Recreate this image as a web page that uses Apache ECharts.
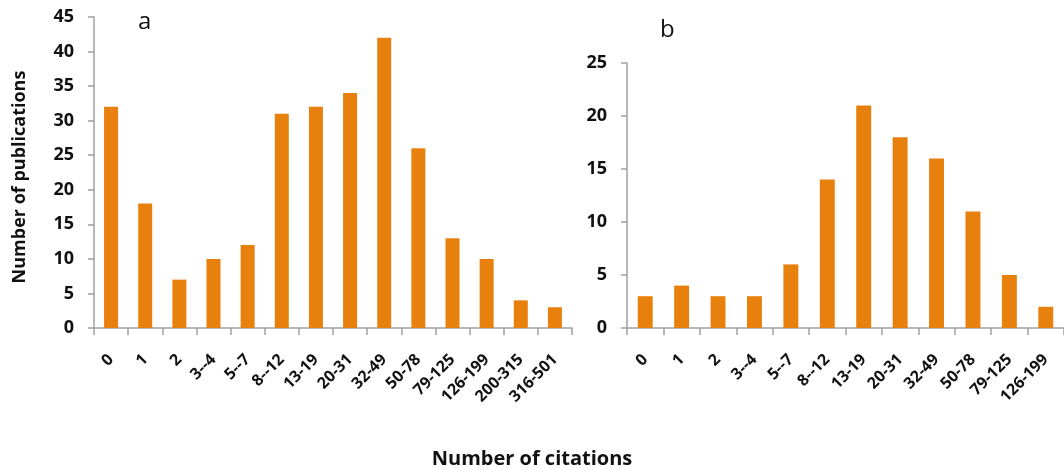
<!DOCTYPE html>
<html>
<head>
<meta charset="utf-8">
<script src="https://cdn.jsdelivr.net/npm/echarts@6/dist/echarts.min.js"></script>
<style>
html,body{margin:0;padding:0;background:#fff;}
#chart{width:1064px;height:470px;}
</style>
</head>
<body>
<div id="chart"></div>
<script>
const categoriesA = ['0','1','2','3--4','5--7','8--12','13-19','20-31','32-49','50-78','79-125','126-199','200-315','316-501'];
const valuesA = [32,18,7,10,12,31,32,34,42,26,13,10,4,3];
const categoriesB = ['0','1','2','3--4','5--7','8--12','13-19','20-31','32-49','50-78','79-125','126-199'];
const valuesB = [3,4,3,3,6,14,21,18,16,11,5,2];
const yTicksA = {min:0, max:45, interval:5};
const yTicksB = {min:0, max:25, interval:5};

const FONT = '"Open Sans", Lato, sans-serif';
const AXIS_COLOR = '#a0a0a0';
const BAR_COLOR = '#E8800E';

const chart = echarts.init(document.getElementById('chart'), null, {renderer:'canvas'});

function xAxis(cats, idx){
  return {
    type:'category', gridIndex:idx, data:cats,
    axisLine:{lineStyle:{color:AXIS_COLOR, width:1.5}},
    axisTick:{show:true, alignWithLabel:false, length:7, lineStyle:{color:AXIS_COLOR, width:1.5}},
    axisLabel:{rotate:45, interval:0, margin:29, color:'#111', fontFamily:FONT, fontWeight:'bold', fontSize:16}
  };
}
function yAxis(t, idx){
  return {
    type:'value', gridIndex:idx, min:t.min, max:t.max, interval:t.interval,
    splitLine:{show:false},
    axisLine:{show:true, lineStyle:{color:AXIS_COLOR, width:1.5}},
    axisTick:{show:true, length:6, lineStyle:{color:AXIS_COLOR, width:1.5}},
    axisLabel:{margin:20, color:'#111', fontFamily:FONT, fontWeight:'bold', fontSize:18}
  };
}

chart.setOption({
  animation:false,
  backgroundColor:'#fff',
  grid:[
    {left:94, top:17, width:478, height:311},
    {left:627, top:63, width:442, height:265}
  ],
  xAxis:[xAxis(categoriesA,0), xAxis(categoriesB,1)],
  yAxis:[yAxis(yTicksA,0), yAxis(yTicksB,1)],
  series:[
    {type:'bar', xAxisIndex:0, yAxisIndex:0, data:valuesA, barWidth:'41%', itemStyle:{color:BAR_COLOR}},
    {type:'bar', xAxisIndex:1, yAxisIndex:1, data:valuesB, barWidth:'41%', itemStyle:{color:BAR_COLOR}}
  ],
  graphic:[
    {type:'text', x:138, y:22, style:{text:'a', font:'24px '+FONT, fill:'#111', verticalAlign:'middle'}},
    {type:'text', x:660, y:30, style:{text:'b', font:'24px '+FONT, fill:'#111', verticalAlign:'middle'}},
    {type:'text', x:20, y:177, rotation:Math.PI/2,
      style:{text:'Number of publications', font:'bold 18px '+FONT, fill:'#111', align:'center', verticalAlign:'middle'}},
    {type:'text', x:532, y:459,
      style:{text:'Number of citations', font:'bold 20px '+FONT, fill:'#111', align:'center', verticalAlign:'middle'}}
  ]
});
</script>
</body>
</html>
